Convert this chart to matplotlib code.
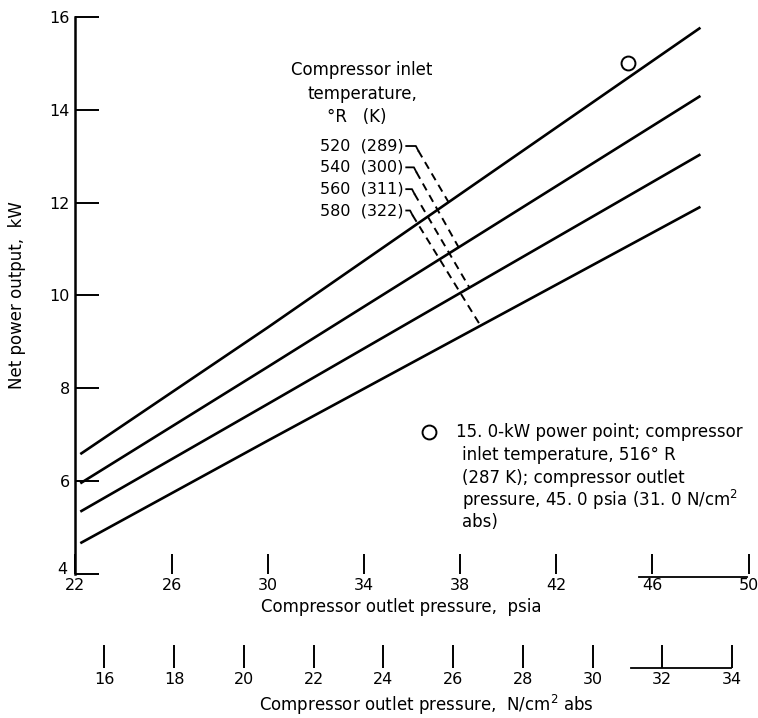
import numpy as np
import matplotlib
matplotlib.use("Agg")
import matplotlib.pyplot as plt
import matplotlib.transforms as mtransforms

# ---------------- data ----------------
psia_ticks = [22, 26, 30, 34, 38, 42, 46, 50]
ncm2_ticks = [16, 18, 20, 22, 24, 26, 28, 30, 32, 34]
kw_ticks = [4, 6, 8, 10, 12, 14, 16]

line_psia = [22.2, 30.0, 48.0]
kw_520 = [6.58, 9.31, 15.77]
kw_540 = [5.95, 8.46, 14.30]
kw_560 = [5.34, 7.66, 13.04]
kw_580 = [4.66, 6.87, 11.91]

temp_R = [520, 540, 560, 580]
temp_K = [289, 300, 311, 322]
dash_end_psia = [37.52, 37.94, 38.39, 38.85]

point_psia = 45.0
point_kw = 15.0

PSIA_TO_NCM2 = 0.689476

# ---------------- style ----------------
FONT = "DejaVu Sans"
plt.rcParams["font.family"] = [FONT]
FS = 12
TFS = 11.5

fig = plt.figure(figsize=(7.58, 7.18), dpi=100)
ax = fig.add_axes([0.0996, 0.2008, 0.8879, 0.7755])
ax.set_xlim(22, 50)
ax.set_ylim(4, 16)

for s in ["top", "right", "bottom"]:
    ax.spines[s].set_visible(False)
ax.spines["left"].set_linewidth(1.8)

ax.set_yticks(kw_ticks)
ax.set_yticklabels([str(v) for v in kw_ticks])
ax.tick_params(axis="y", direction="in", length=17, width=1.4, pad=4, labelsize=TFS)

ax.set_xticks(psia_ticks)
ax.set_xticklabels([str(v) for v in psia_ticks])
ax.tick_params(axis="x", direction="in", length=14.5, width=1.4, pad=3, labelsize=TFS)

# nudge the "4" label up-left like the reference
lab4 = ax.get_yticklabels()[0]
lab4.set_transform(lab4.get_transform() +
                   mtransforms.ScaledTranslation(-3 / 100, 6 / 100, fig.dpi_scale_trans))

# bracket under 46-50
ax.plot([45.45, 49.95], [3.94, 3.94], color="k", lw=1.3, clip_on=False)

# secondary axis (N/cm^2)
secax = ax.secondary_xaxis(-0.169, functions=(lambda p: p * PSIA_TO_NCM2,
                                               lambda n: n / PSIA_TO_NCM2))
secax.set_xticks(ncm2_ticks)
secax.set_xticklabels([str(v) for v in ncm2_ticks])
secax.spines["bottom"].set_visible(False)
secax.tick_params(axis="x", direction="in", length=16.5, width=1.4, pad=3, labelsize=TFS)
ax.plot([31.1 / PSIA_TO_NCM2, 33.96 / PSIA_TO_NCM2], [1.97, 1.97], color="k",
        lw=1.3, clip_on=False)

# main lines
series = [kw_520, kw_540, kw_560, kw_580]
for kw in series:
    ax.plot(line_psia, kw, color="k", lw=1.9, solid_capstyle="butt")

# 15 kW point
ax.plot(point_psia, point_kw, "o", mfc="white", mec="k", ms=10, mew=1.4)

# temperature labels and dashed leaders
title_x = 33.92
ax.text(title_x, 14.86, "Compressor inlet", ha="center", va="center", fontsize=FS)
ax.text(title_x, 14.34, "temperature,", ha="center", va="center", fontsize=FS)
ax.text(title_x - 0.2, 13.84, "°R   (K)", ha="center", va="center", fontsize=FS)

label_kw = [13.22, 12.76, 12.29, 11.83]
label_x = 35.66
hook_x0 = 35.76
hook_x1 = [36.16, 36.08, 36.0, 35.92]
for i, (r, k) in enumerate(zip(temp_R, temp_K)):
    y = label_kw[i]
    ax.text(label_x, y, f"{r}  ({k})", ha="right", va="center", fontsize=TFS)
    x1 = hook_x1[i]
    ax.plot([hook_x0, x1, x1 + 0.1], [y, y, y - 0.1], color="k", lw=1.3)
    xe = dash_end_psia[i]
    ye = float(np.interp(xe, line_psia, series[i]))
    ln, = ax.plot([x1 + 0.1, xe], [y - 0.1, ye], color="k", lw=1.4)
    ln.set_dashes([4, 2.8])

# note
ax.plot(36.69, 7.06, "o", mfc="white", mec="k", ms=10, mew=1.4)
ax.text(37.81, 7.06, "15. 0-kW power point; compressor", ha="left", va="center", fontsize=FS)
note_lines = ["inlet temperature, 516° R",
              "(287 K); compressor outlet",
              "pressure, 45. 0 psia (31. 0 N/cm$^2$",
              "abs)"]
note_kw = [6.56, 6.06, 5.59, 5.12]
for t, y in zip(note_lines, note_kw):
    ax.text(38.10, y, t, ha="left", va="center", fontsize=FS)

# axis labels
fig.text(401 / 758, 1 - 607 / 718, "Compressor outlet pressure,  psia",
         ha="center", va="center", fontsize=FS)
fig.text(426 / 758, 1 - 705 / 718, "Compressor outlet pressure,  N/cm$^2$ abs",
         ha="center", va="center", fontsize=FS)
fig.text(17 / 758, 1 - 295 / 718, "Net power output,  kW", rotation=90,
         ha="center", va="center", fontsize=FS)

fig.savefig("out.png", dpi=100)
